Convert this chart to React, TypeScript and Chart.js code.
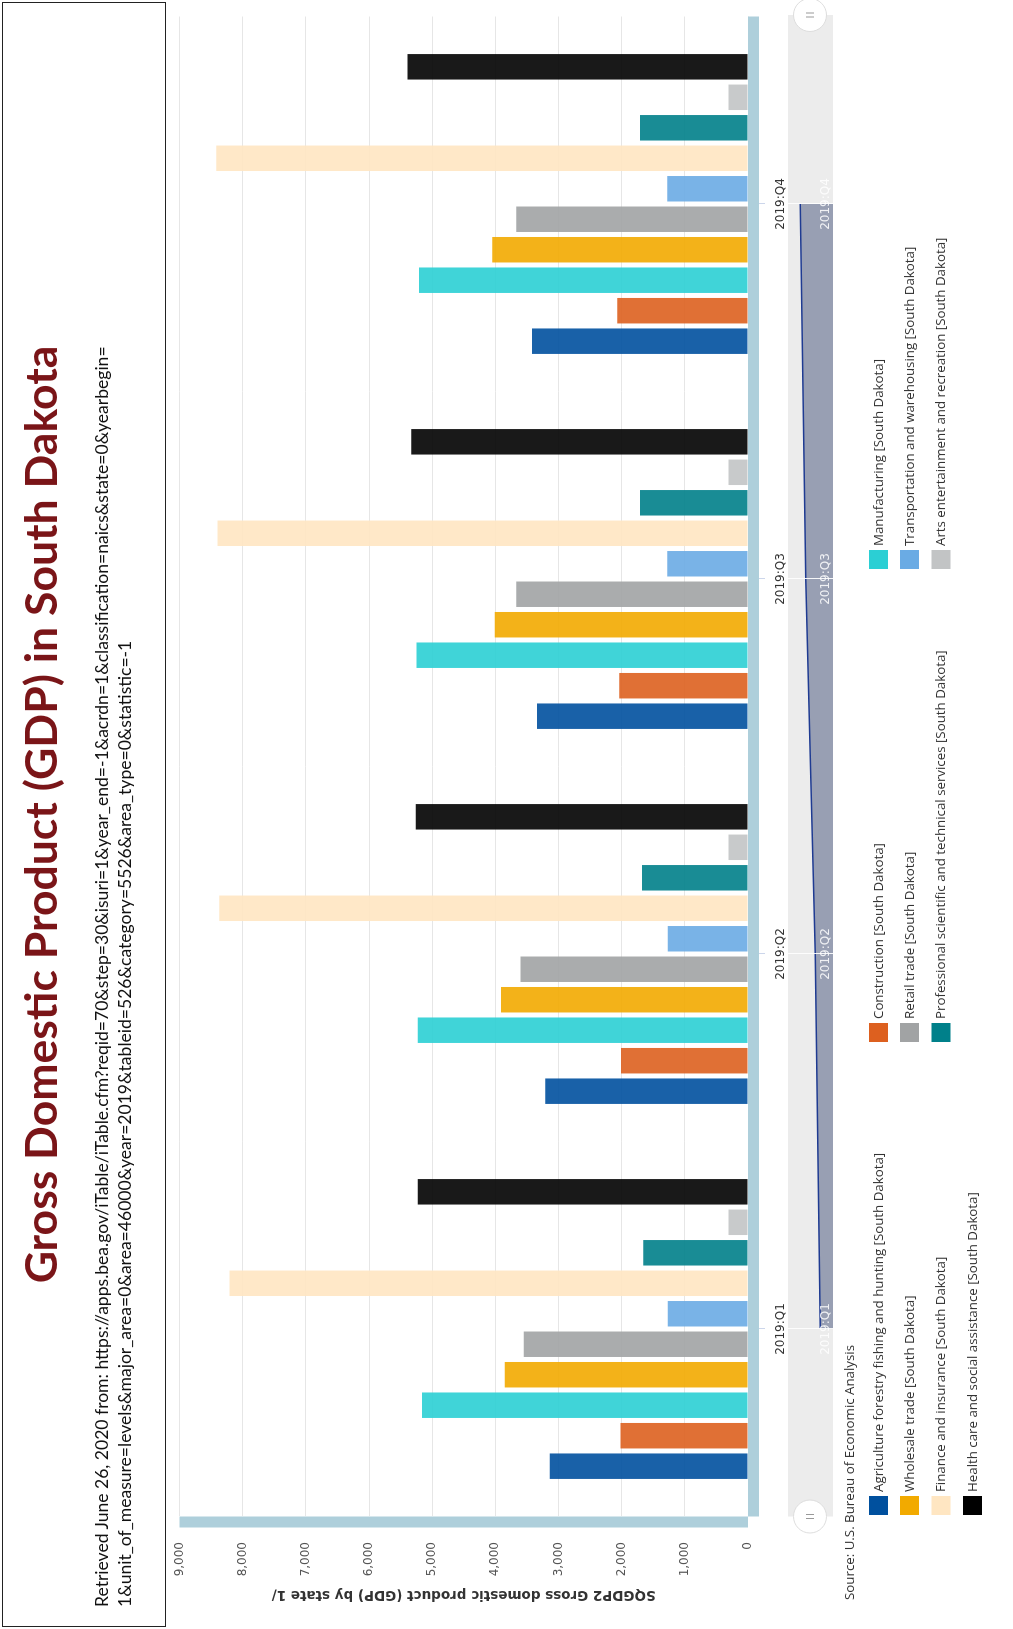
import React, { useEffect, useRef } from 'react';
import { Chart, registerables } from 'chart.js';

Chart.register(...registerables);

// ---------------- data ----------------
const categories = ['2019:Q1', '2019:Q2', '2019:Q3', '2019:Q4'];

const agriculture = [3140, 3210, 3340, 3420];
const construction = [2020, 2010, 2040, 2070];
const manufacturing = [5160, 5230, 5250, 5210];
const wholesale = [3850, 3910, 4010, 4050];
const retail = [3550, 3600, 3670, 3670];
const transportation = [1270, 1270, 1280, 1280];
const finance = [8210, 8370, 8400, 8420];
const professional = [1660, 1680, 1710, 1710];
const arts = [310, 310, 310, 310];
const health = [5230, 5260, 5330, 5390];

const seriesNames = [
  'Agriculture forestry fishing and hunting [South Dakota]',
  'Construction [South Dakota]',
  'Manufacturing [South Dakota]',
  'Wholesale trade [South Dakota]',
  'Retail trade [South Dakota]',
  'Transportation and warehousing [South Dakota]',
  'Finance and insurance [South Dakota]',
  'Professional scientific and technical services [South Dakota]',
  'Arts entertainment and recreation [South Dakota]',
  'Health care and social assistance [South Dakota]',
];
const seriesData = [
  agriculture, construction, manufacturing, wholesale, retail,
  transportation, finance, professional, arts, health,
];

const valueMin = 0;
const valueMax = 9000;
const valueStep = 1000;
const navigatorMin = 2960;
const navigatorMax = 3590;

const titleText = 'Gross Domestic Product (GDP) in South Dakota';
const subtitleLine1 =
  'Retrieved June 26, 2020 from: https://apps.bea.gov/iTable/iTable.cfm?reqid=70&step=30&isuri=1&year_end=-1&acrdn=1&classification=naics&state=0&yearbegin=';
const subtitleLine2 =
  '1&unit_of_measure=levels&major_area=0&area=46000&year=2019&tableid=526&category=5526&area_type=0&statistic=-1';
const axisTitle = 'SQGDP2 Gross domestic product (GDP) by state 1/';
const sourceText = 'Source: U.S. Bureau of Economic Analysis';

// ---------------- styles ----------------
const seriesColors = [
  '#00509e', '#dd601f', '#2bcfd4', '#f2aa00', '#a1a3a4',
  '#6aabe4', '#ffe6c2', '#00808a', '#c2c4c5', '#000000',
];

const W = 1629; // landscape width (reference height)
const H = 1013; // landscape height (reference width)

function rgba(hex: string, a: number) {
  const n = parseInt(hex.slice(1), 16);
  return `rgba(${(n >> 16) & 255},${(n >> 8) & 255},${n & 255},${a})`;
}

function fitFontSize(text: string, weight: string, family: string, target: number) {
  const c = document.createElement('canvas').getContext('2d');
  if (!c) return 16;
  c.font = `${weight} 100px ${family}`;
  const w = c.measureText(text).width;
  return (100 * target) / w;
}

const legendCols = [114, 587, 1060];
const legendRows = [878.5, 909.5, 941, 972.5];

const mainDecor = {
  id: 'mainDecor',
  afterDatasetsDraw(chart: any) {
    const { ctx, chartArea: a } = chart;
    ctx.save();
    ctx.fillStyle = '#aecfdb';
    ctx.fillRect(a.left, a.bottom, a.right - a.left, 11);
    ctx.fillRect(a.left - 11, a.top, 11, a.bottom - a.top);
    ctx.restore();
  },
  afterDraw(chart: any) {
    const { ctx } = chart;
    ctx.save();
    ctx.font = '13.3px "Open Sans"';
    ctx.textBaseline = 'middle';
    ctx.textAlign = 'left';
    ctx.fillStyle = '#333333';
    ctx.fillText(sourceText, 29, 850.5);
    chart.data.datasets.forEach((ds: any, i: number) => {
      const x = legendCols[i % 3];
      const y = legendRows[Math.floor(i / 3)];
      ctx.fillStyle = seriesColors[i];
      ctx.fillRect(x, y - 9.5, 19, 19);
      ctx.fillStyle = '#333333';
      ctx.fillText(ds.label, x + 23, y + 0.5);
    });
    ctx.restore();
  },
};

const navDecor = {
  id: 'navDecor',
  beforeDatasetsDraw(chart: any) {
    const { ctx, chartArea: a, height } = chart;
    ctx.save();
    ctx.fillStyle = '#ececec';
    ctx.fillRect(a.left, 0, a.right - a.left + 1.5, height);
    ctx.restore();
  },
  afterDatasetsDraw(chart: any) {
    const { ctx, chartArea: a, height } = chart;
    const xs = chart.scales.x;
    ctx.save();
    ctx.strokeStyle = 'rgba(255,255,255,0.9)';
    ctx.lineWidth = 1;
    categories.forEach((_, i) => {
      const px = Math.round(xs.getPixelForValue(i)) + 0.5;
      ctx.beginPath();
      ctx.moveTo(px, 0);
      ctx.lineTo(px, height);
      ctx.stroke();
    });
    ctx.fillStyle = 'rgba(255,255,255,0.85)';
    ctx.font = '12px "DejaVu Sans"';
    ctx.textAlign = 'center';
    ctx.textBaseline = 'middle';
    categories.forEach((c, i) => {
      ctx.fillText(c, xs.getPixelForValue(i), 37.5);
    });
    // handles
    [a.left, a.right + 1.5].forEach((hx) => {
      const cy = 22;
      ctx.beginPath();
      ctx.arc(hx, cy, 16.5, 0, Math.PI * 2);
      ctx.fillStyle = '#ffffff';
      ctx.fill();
      ctx.strokeStyle = '#dddddd';
      ctx.lineWidth = 1;
      ctx.stroke();
      ctx.strokeStyle = '#999999';
      ctx.beginPath();
      ctx.moveTo(hx - 2, cy - 4);
      ctx.lineTo(hx - 2, cy + 4);
      ctx.moveTo(hx + 2, cy - 4);
      ctx.lineTo(hx + 2, cy + 4);
      ctx.stroke();
    });
    ctx.restore();
  },
};

export default function App() {
  const mainRef = useRef<HTMLCanvasElement>(null);
  const navRef = useRef<HTMLCanvasElement>(null);

  useEffect(() => {
    if (!mainRef.current || !navRef.current) return;
    const main = new Chart(mainRef.current, {
      type: 'bar',
      data: {
        labels: categories,
        datasets: seriesNames.map((name, i) => ({
          label: name,
          data: seriesData[i],
          backgroundColor: rgba(seriesColors[i], 0.9),
          borderWidth: 0,
          categoryPercentage: 0.813,
          barPercentage: 0.836,
        })),
      },
      options: {
        animation: false,
        responsive: false,
        events: [],
        layout: { padding: { left: 0, right: 16.5, top: 179.5, bottom: 0 } },
        plugins: {
          legend: { display: false },
          tooltip: { enabled: false },
          title: { display: false },
        },
        scales: {
          x: {
            offset: true,
            grid: {
              display: true,
              drawOnChartArea: false,
              drawTicks: true,
              tickLength: 17,
              color: '#ccd6eb',
              offset: false,
            },
            border: { display: false },
            ticks: {
              color: '#333333',
              font: { family: 'DejaVu Sans', size: 12 },
              padding: 9,
              maxRotation: 0,
              autoSkip: false,
            },
            afterFit: (s: any) => {
              s.height = 265;
            },
          },
          y: {
            min: valueMin,
            max: valueMax,
            ticks: {
              stepSize: valueStep,
              padding: 25.5,
              color: '#555555',
              font: { family: 'DejaVu Sans', size: 12 },
              callback: (v: any) => Number(v).toLocaleString('en-US'),
            },
            grid: { color: '#e6e6e6', drawTicks: false },
            border: { display: false },
            title: {
              display: true,
              text: axisTitle,
              color: '#333333',
              font: { family: 'DejaVu Sans', size: 13.5, weight: 'bold' },
              padding: { top: 26.5, bottom: 0 },
            },
            afterFit: (s: any) => {
              s.width = 112.5;
            },
          },
        },
      } as any,
      plugins: [mainDecor],
    });

    const nav = new Chart(navRef.current, {
      type: 'line',
      data: {
        labels: categories,
        datasets: [
          {
            data: agriculture,
            fill: 'start',
            backgroundColor: '#989fb3',
            borderColor: '#1f3b92',
            borderWidth: 1.5,
            pointRadius: 0,
            tension: 0,
          },
        ],
      },
      options: {
        animation: false,
        responsive: false,
        events: [],
        layout: { padding: { left: 112.5, right: 16.5, top: 0, bottom: 0 } },
        plugins: { legend: { display: false }, tooltip: { enabled: false } },
        scales: {
          x: { display: false, offset: true },
          y: { display: false, min: navigatorMin, max: navigatorMax },
        },
      } as any,
      plugins: [navDecor],
    });

    return () => {
      main.destroy();
      nav.destroy();
    };
  }, []);

  const titleSize = fitFontSize(titleText, 'bold', 'Lato', 938);
  const subSize = fitFontSize(subtitleLine1, 'normal', 'Lato', 1262);

  return (
    <div style={{ position: 'absolute', left: 0, top: 0, width: H, height: W, overflow: 'hidden', background: '#ffffff' }}>
      <div
        style={{
          position: 'absolute',
          left: 0,
          top: 0,
          width: W,
          height: H,
          transformOrigin: '0 0',
          transform: `translateY(${W}px) rotate(-90deg)`,
        }}
      >
        <canvas ref={mainRef} width={W} height={H} style={{ position: 'absolute', left: 0, top: 0, width: W, height: H }} />
        <canvas ref={navRef} width={W} height={45} style={{ position: 'absolute', left: 0, top: 788, width: W, height: 45 }} />
        <div
          style={{
            position: 'absolute',
            left: 2,
            top: 2,
            width: 1625,
            height: 164,
            boxSizing: 'border-box',
            border: '1.5px solid #222222',
          }}
        />
        <div
          style={{
            position: 'absolute',
            left: 0,
            width: W,
            top: 45 - 0.6 * titleSize,
            textAlign: 'center',
            fontFamily: 'Lato',
            fontWeight: 'bold',
            fontSize: titleSize,
            lineHeight: `${titleSize}px`,
            color: '#7a1518',
            whiteSpace: 'nowrap',
          }}
        >
          {titleText}
        </div>
        <div
          style={{
            position: 'absolute',
            left: 22,
            top: 104 - 0.6 * subSize,
            fontFamily: 'Lato',
            fontSize: subSize,
            lineHeight: `${subSize}px`,
            color: '#111111',
            whiteSpace: 'nowrap',
          }}
        >
          {subtitleLine1}
        </div>
        <div
          style={{
            position: 'absolute',
            left: 22,
            top: 127 - 0.6 * subSize,
            fontFamily: 'Lato',
            fontSize: subSize,
            lineHeight: `${subSize}px`,
            color: '#111111',
            whiteSpace: 'nowrap',
          }}
        >
          {subtitleLine2}
        </div>
      </div>
    </div>
  );
}
